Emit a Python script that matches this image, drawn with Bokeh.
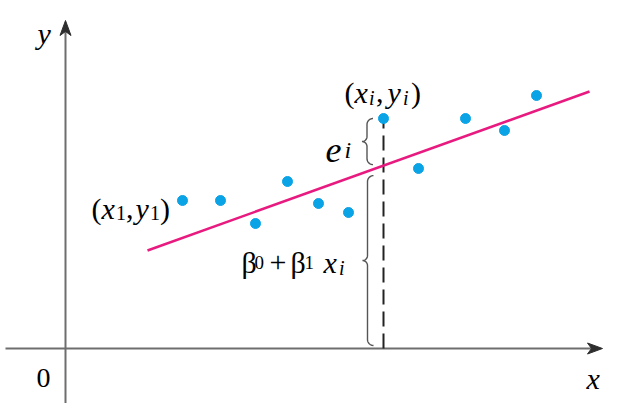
import numpy as np
from bokeh.plotting import figure
from bokeh.models import Range1d
from bokeh.core.properties import value
from bokeh.embed import file_html
from bokeh.resources import INLINE

# ---- data (chart units, origin at the axes' intersection) ----
x_pts = [117, 155, 190, 222, 253, 283, 318, 353, 400, 439, 471]
y_pts = [148, 148, 125, 167, 145, 136, 230, 180, 230, 218, 253]
b0 = 68.5          # intercept of fitted line
b1 = 0.3597        # slope of fitted line
line_x = [82, 524]
i_idx = 6          # the highlighted point (x_i, y_i)

SERIF = "Liberation Serif"
INK = "#000000"

p = figure(width=612, height=403,
           x_range=Range1d(-65, 547), y_range=Range1d(-55, 348),
           output_backend="svg", toolbar_location=None, min_border=0,
           x_axis_location=None, y_axis_location=None)
p.grid.visible = False
p.outline_line_color = None
p.background_fill_color = "white"
p.border_fill_color = "white"

# ---- axes with arrowheads ----
AX = "#6e6e6e"
HEAD = "#2e2e2e"
p.line([-60, 530], [0, 0], line_color=AX, line_width=2)
p.line([0, 0], [-57, 320], line_color=AX, line_width=2)
tip_x, tip_y = 537, 328
p.patch([tip_x, tip_x - 15, tip_x - 11, tip_x - 15], [0, 5.5, 0, -5.5],
        fill_color=HEAD, line_color=HEAD, line_width=1)
p.patch([0, 5.5, 0, -5.5], [tip_y, tip_y - 15, tip_y - 11, tip_y - 15],
        fill_color=HEAD, line_color=HEAD, line_width=1)

# ---- dashed vertical line from (x_i, y_i) to the x axis ----
xi, yi = x_pts[i_idx], y_pts[i_idx]
p.line([xi, xi], [0, yi], line_color="#222222", line_width=2, line_dash="15 7")

# ---- fitted line ----
line_y = [b0 + b1 * v for v in line_x]
p.line(line_x, line_y, line_color="#e8197f", line_width=2.5)

# ---- data points ----
p.scatter(x_pts, y_pts, size=10, fill_color="#0aa3e6", line_color="#0aa3e6")

# ---- braces ----
def brace(xs, ytop, ybot, r_end=6.0, r_tip=5.0, n=12):
    ymid = (ytop + ybot) / 2.0
    xs_list, ys_list = [], []
    a = np.linspace(np.pi / 2, np.pi, n)
    xs_list += list(xs + r_end + r_end * np.cos(a)); ys_list += list(ytop - r_end + r_end * np.sin(a))
    a = np.linspace(0, -np.pi / 2, n)
    xs_list += list(xs - r_tip + r_tip * np.cos(a)); ys_list += list(ymid + r_tip + r_tip * np.sin(a))
    a = np.linspace(np.pi / 2, 0, n)
    xs_list += list(xs - r_tip + r_tip * np.cos(a)); ys_list += list(ymid - r_tip + r_tip * np.sin(a))
    a = np.linspace(np.pi, 1.5 * np.pi, n)
    xs_list += list(xs + r_end + r_end * np.cos(a)); ys_list += list(ybot + r_end + r_end * np.sin(a))
    p.line(xs_list, ys_list, line_color="#555555", line_width=1.4)

yhat = b0 + b1 * xi
brace(xi - 16.5, yi, yhat + 1)
brace(xi - 16.0, yhat - 10, 3)

# ---- labels (anchored at data points, offsets in pixels) ----
def piece(txt, ax, ay, dx, dy, size, italic=False):
    p.text(x=[ax], y=[ay], text=[txt], x_offset=dx, y_offset=dy,
           text_font=value(SERIF), text_font_size=f"{size}px",
           text_font_style="italic" if italic else "normal",
           text_align="left", text_baseline="alphabetic", text_color=INK)

# (x1, y1) anchored at point 1 (pixel 182, 200)
x1, y1 = x_pts[0], y_pts[0]
for txt, X, Y, s, it in [("(", 91, 208, 30, False), ("x", 101, 208, 30, True),
                         ("1", 115.5, 212, 20, False), (",", 125.5, 208, 30, False),
                         ("y", 135, 208, 30, True), ("1", 149.5, 212, 20, False),
                         (")", 159.5, 208, 30, False)]:
    piece(txt, x1, y1, X - 182, Y - 200, s, it)

# (x_i, y_i) anchored at point i (pixel 383, 118)
for txt, X, Y, s, it in [("(", 344, 92, 30, False), ("x", 354, 92, 30, True),
                         ("i", 368.5, 97, 20, True), (",", 375.5, 92, 30, False),
                         ("y", 387, 92, 30, True), ("i", 402.5, 97, 20, True),
                         (")", 410.5, 92, 30, False)]:
    piece(txt, xi, yi, X - 383, Y - 118, s, it)

# e_i
for txt, X, Y, s, it in [("e", 325, 149, 36, True), ("i", 344, 149, 24, True)]:
    piece(txt, xi, yi, X - 383, Y - 118, s, it)

# beta0 + beta1 x_i
for txt, X, Y, s, it in [("β", 241, 262, 30, False), ("0", 254, 262, 19, False),
                         ("+", 269, 262, 30, False), ("β", 290, 262, 30, False),
                         ("1", 304, 262, 19, False), ("x", 323, 262, 30, True),
                         ("i", 338.5, 267, 20, True)]:
    piece(txt, xi, yi, X - 383, Y - 118, s, it)

# axis labels anchored at origin (pixel 65, 348)
piece("y", 0, 0, 37 - 65, 33 - 348, 30, True)
piece("0", 0, 0, 36 - 65, 377 - 348, 28, False)
piece("x", 0, 0, 586 - 65, 378 - 348, 30, True)

open("out.html", "w").write(file_html(p, INLINE))
